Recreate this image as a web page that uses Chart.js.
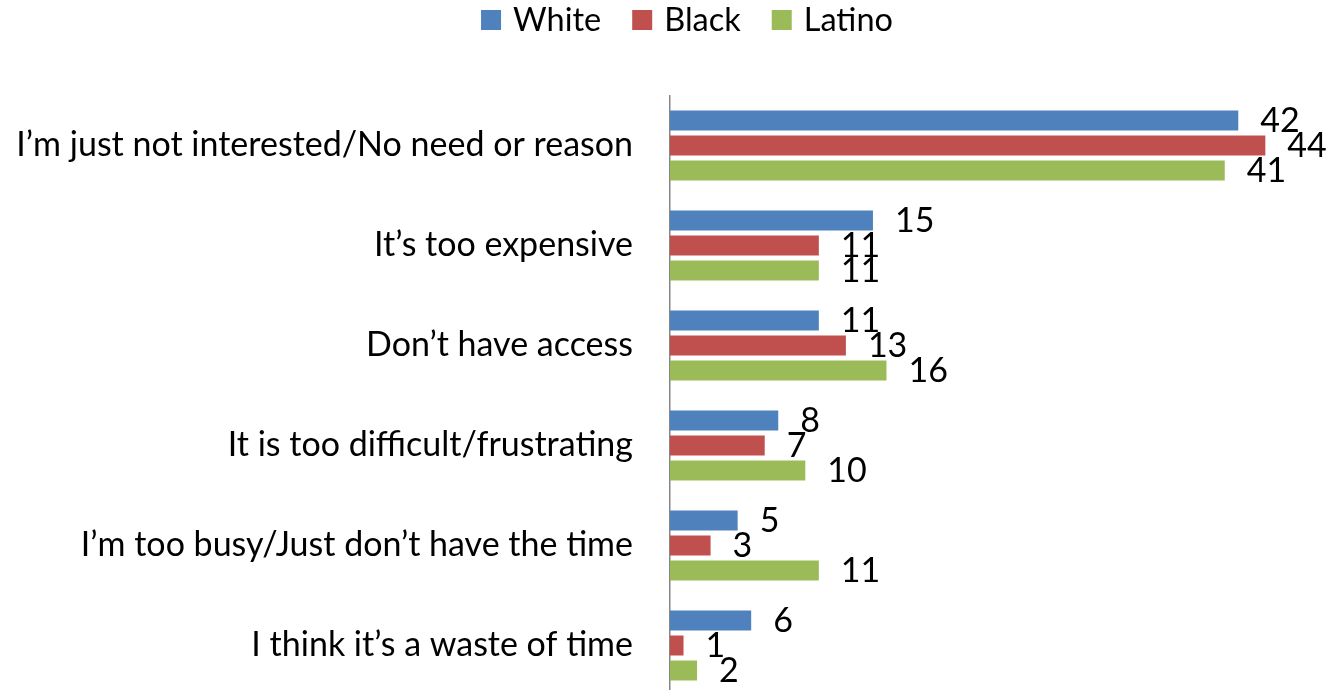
<!DOCTYPE html>
<html><head><meta charset="utf-8">
<script src="https://cdn.jsdelivr.net/npm/chart.js@4"></script>
<style>html,body{margin:0;padding:0;overflow:hidden;background:#fff}#wrap{width:1333px;height:700px;position:relative}</style>
</head><body><div id="wrap"><canvas id="c"></canvas></div>
<script>
const categories = ["I’m just not interested/No need or reason","It’s too expensive","Don’t have access","It is too difficult/frustrating","I’m too busy/Just don’t have the time","I think it’s a waste of time"];
const seriesNames = ["White","Black","Latino"];
const white = [42,15,11,8,5,6];
const black = [44,11,13,7,3,1];
const latino = [41,11,16,10,11,2];
const colors = ["#4F81BD","#C0504D","#9BBB59"];

const FONT_FAMILY = "Lato";
const FONT_SIZE = 34;
const LEGEND_FONT_SIZE = 32.5;

const valueLabels = {
  id: 'valueLabels',
  afterDatasetsDraw(chart) {
    const ctx = chart.ctx;
    ctx.save();
    ctx.font = FONT_SIZE + "px " + FONT_FAMILY;
    ctx.fillStyle = "#000";
    ctx.textAlign = "left";
    ctx.textBaseline = "middle";
    chart.data.datasets.forEach((ds, i) => {
      chart.getDatasetMeta(i).data.forEach((bar, j) => {
        ctx.fillText(String(ds.data[j]), bar.x + 22, bar.y + 1);
      });
    });
    ctx.restore();
  }
};

const customLegend = {
  id: 'customLegend',
  afterDraw(chart) {
    const ctx = chart.ctx;
    ctx.save();
    ctx.font = LEGEND_FONT_SIZE + "px " + FONT_FAMILY;
    const box = 20, gapText = 12, gapItem = 31;
    const items = chart.data.datasets.map(ds => ({text: ds.label, color: ds.backgroundColor, w: ctx.measureText(ds.label).width}));
    let total = 0;
    items.forEach((it, i) => { total += box + gapText + it.w + (i < items.length - 1 ? gapItem : 0); });
    let x = 687 - total / 2;
    const cy = 20;
    ctx.textBaseline = "middle";
    ctx.textAlign = "left";
    items.forEach(it => {
      ctx.fillStyle = it.color;
      ctx.fillRect(x, cy - box / 2, box, box);
      ctx.fillStyle = "#000";
      ctx.fillText(it.text, x + box + gapText, cy + 1);
      x += box + gapText + it.w + gapItem;
    });
    ctx.restore();
  }
};

new Chart(document.getElementById('c'), {
  type: 'bar',
  data: {
    labels: categories,
    datasets: [
      {label: seriesNames[0], data: white, backgroundColor: colors[0]},
      {label: seriesNames[1], data: black, backgroundColor: colors[1]},
      {label: seriesNames[2], data: latino, backgroundColor: colors[2]}
    ]
  },
  options: {
    indexAxis: 'y',
    responsive: true,
    maintainAspectRatio: false,
    animation: false,
    datasets: {bar: {barPercentage: 0.8, categoryPercentage: 0.75}},
    layout: {padding: {left: 0, right: 0, top: 95.5, bottom: 4.5}},
    plugins: {legend: {display: false}, tooltip: {enabled: false}},
    scales: {
      x: {display: false, min: 0, max: 49},
      y: {
        grid: {display: false, drawTicks: false},
        border: {display: true, color: '#868686', width: 1.5},
        ticks: {padding: 37, color: '#000', font: {family: FONT_FAMILY, size: FONT_SIZE}},
        afterFit(s) { s.width = 670; s.paddingTop = 0; s.paddingBottom = 0; }
      }
    }
  },
  plugins: [valueLabels, customLegend]
});
</script>
</body></html>
